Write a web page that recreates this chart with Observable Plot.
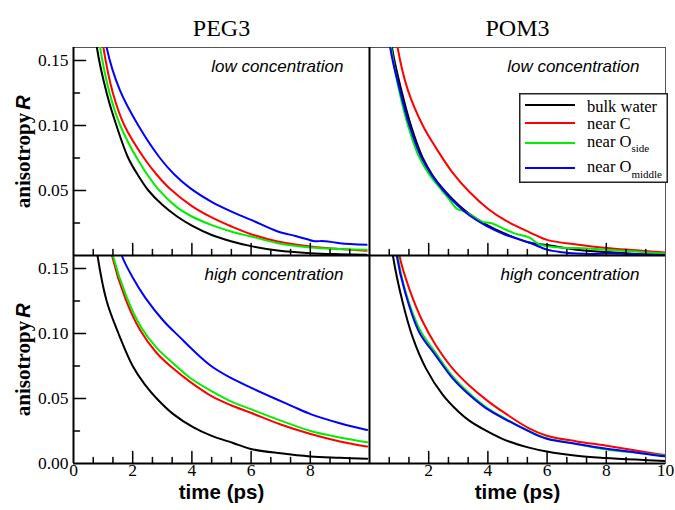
<!DOCTYPE html>
<html>
<head>
<meta charset="utf-8">
<script src="https://cdn.jsdelivr.net/npm/d3@7"></script>
<script src="https://cdn.jsdelivr.net/npm/@observablehq/plot@0.6"></script>
<style>
  html, body { margin: 0; padding: 0; background: #fff; }
  #wrap { position: relative; width: 675px; height: 510px; }
  #legend { position: absolute; left: 519px; top: 93px; }
</style>
</head>
<body>
<div id="wrap"></div>
<script>
// ---------- data ----------
const panels = ["PEG3", "POM3"];
const concs = ["low", "high"];
const concLabels = ["low concentration", "high concentration"];
const seriesKeys = ["bulk water", "near C", "near Oside", "near Omiddle"];
const seriesColors = ["#000000", "#ff0000", "#00ee00", "#0000ff"];
const legendNames = ["bulk water", "near C", "near O", "near O"];
const legendSubs = ["", "", "side", "middle"];

// PEG3, low concentration  [time ps, anisotropy R]
const PEG3_low_bulk = [[0.6,0.205],[0.79,0.16],[1.12,0.125],[1.45,0.10],[1.85,0.075],[2.2,0.061],[2.53,0.05],[3.0,0.039],[3.5,0.030],[4.0,0.023],[4.65,0.016],[5.32,0.011],[6.0,0.0072],[6.9,0.0038],[8.0,0.0018],[9.0,0.001],[9.9,0.0006]];
const PEG3_low_C    = [[0.8,0.2],[1.01,0.16],[1.33,0.125],[1.72,0.10],[2.41,0.074],[2.8,0.0625],[3.25,0.0515],[4.0,0.038],[4.65,0.0295],[5.32,0.0225],[6.0,0.0164],[6.9,0.0108],[8.0,0.0069],[9.0,0.005],[9.9,0.0036]];
const PEG3_low_Os   = [[0.7,0.2],[0.9,0.16],[1.22,0.125],[1.58,0.10],[2.19,0.073],[2.86,0.051],[3.5,0.037],[4.0,0.030],[4.65,0.0236],[5.32,0.0185],[6.0,0.0146],[6.9,0.0095],[8.0,0.0062],[9.0,0.005],[9.9,0.0044]];
const PEG3_low_Om   = [[0.9,0.2],[1.12,0.16],[1.57,0.127],[2.19,0.10],[2.92,0.075],[3.4,0.0625],[3.93,0.052],[4.65,0.0415],[5.32,0.034],[6.0,0.0274],[6.9,0.0185],[7.5,0.015],[7.9,0.0125],[8.1,0.0112],[8.5,0.011],[9.0,0.0095],[9.9,0.0082]];

// POM3, low concentration
const POM3_low_bulk = [[0.6,0.2],[0.76,0.16],[1.1,0.125],[1.4,0.10],[1.8,0.075],[2.15,0.061],[2.53,0.05],[3.0,0.039],[3.37,0.032],[3.93,0.024],[4.5,0.0175],[5.39,0.010],[6.0,0.008],[7.0,0.0045],[8.0,0.0026],[9.0,0.0012],[10,0.0005]];
const POM3_low_C    = [[0.75,0.2],[0.95,0.16],[1.3,0.127],[1.8,0.10],[2.24,0.083],[2.8,0.064],[3.37,0.049],[4.0,0.036],[4.59,0.027],[5.39,0.018],[6.0,0.012],[7.0,0.0085],[8.0,0.0058],[9.0,0.004],[10,0.0022]];
const POM3_low_Os   = [[0.55,0.2],[0.73,0.16],[1.02,0.125],[1.3,0.10],[1.65,0.077],[2.0,0.063],[2.45,0.05],[2.7,0.043],[2.95,0.036],[3.2,0.034],[3.5,0.030],[3.8,0.026],[4.1,0.025],[4.59,0.020],[4.9,0.017],[5.39,0.014],[5.7,0.009],[6.0,0.0072],[6.5,0.006],[7.0,0.0058],[7.5,0.0052],[8.0,0.0044],[9.0,0.003],[10,0.0015]];
const POM3_low_Om   = [[0.55,0.2],[0.70,0.16],[1.05,0.125],[1.35,0.10],[1.72,0.077],[2.1,0.062],[2.5,0.05],[3.0,0.038],[3.37,0.031],[3.93,0.023],[4.59,0.016],[5.39,0.010],[6.0,0.0045],[6.5,0.0025],[7.0,0.0015],[7.5,0.0012],[8.0,0.0015],[9.0,0.001],[10,0.0003]];

// PEG3, high concentration
const PEG3_high_bulk = [[0.6,0.2],[0.81,0.16],[1.12,0.125],[1.52,0.10],[2.0,0.075],[2.4,0.061],[2.81,0.05],[3.37,0.038],[4.04,0.028],[4.65,0.0214],[5.39,0.0158],[5.99,0.0112],[7.0,0.0078],[8.0,0.0054],[9.0,0.0044],[9.92,0.0036]];
const PEG3_high_C    = [[1.15,0.18],[1.3,0.16],[1.75,0.127],[2.24,0.103],[2.81,0.085],[3.37,0.073],[3.93,0.063],[4.65,0.052],[5.3,0.045],[5.99,0.039],[7.0,0.030],[8.01,0.0227],[9.0,0.017],[9.92,0.013]];
const PEG3_high_Os   = [[1.15,0.18],[1.33,0.16],[1.78,0.129],[2.28,0.105],[2.81,0.089],[3.37,0.077],[3.93,0.066],[4.65,0.0559],[5.3,0.048],[5.99,0.0418],[7.0,0.033],[8.01,0.025],[9.0,0.020],[9.92,0.0163]];
const PEG3_high_Om   = [[1.45,0.175],[1.63,0.16],[2.0,0.143],[2.41,0.128],[3.03,0.110],[3.6,0.097],[4.0,0.088],[4.65,0.075],[5.3,0.066],[5.99,0.0584],[6.8,0.050],[7.4,0.044],[8.01,0.038],[9.0,0.031],[9.92,0.0258]];

// POM3, high concentration
const POM3_high_bulk = [[0.6,0.2],[0.79,0.16],[1.12,0.124],[1.46,0.097],[1.91,0.073],[2.47,0.053],[3.0,0.040],[3.37,0.033],[4.0,0.0245],[4.59,0.018],[5.39,0.0122],[5.99,0.0092],[7.0,0.006],[7.96,0.0043],[9.0,0.003],[10,0.002]];
const POM3_high_C    = [[0.8,0.2],[1.01,0.16],[1.35,0.134],[1.8,0.109],[2.24,0.091],[2.81,0.073],[3.37,0.060],[4.0,0.048],[4.59,0.0385],[5.39,0.027],[5.99,0.0214],[7.0,0.017],[7.96,0.0138],[9.0,0.010],[9.72,0.0074],[10,0.0065]];
const POM3_high_Os   = [[0.77,0.2],[0.95,0.16],[1.22,0.132],[1.7,0.103],[2.24,0.085],[2.81,0.067],[3.37,0.054],[3.93,0.0435],[4.59,0.0345],[5.39,0.025],[5.99,0.0195],[7.0,0.015],[7.96,0.011],[9.0,0.0082],[10,0.006]];
const POM3_high_Om   = [[0.75,0.2],[0.92,0.16],[1.2,0.132],[1.68,0.101],[2.24,0.083],[2.81,0.0655],[3.37,0.0528],[3.93,0.0426],[4.59,0.034],[5.39,0.0247],[5.99,0.019],[7.0,0.015],[7.96,0.0115],[9.0,0.0085],[9.72,0.0061],[10,0.0055]];

// axis ticks and labels
const xMajor = [2, 4, 6, 8];
const xMinor = [0.667, 1.333, 2.667, 3.333, 4.667, 5.333, 6.667, 7.333, 8.667, 9.333];
const yMajor = [0.05, 0.10, 0.15];
const yMinor = [0.025, 0.075, 0.125];
const yLabelsLow = [0.05, 0.10, 0.15];
const yLabelsHigh = [0.00, 0.05, 0.10, 0.15];
const xLabelsPEG3 = [0, 2, 4, 6, 8];
const xLabelsPOM3 = [2, 4, 6, 8, 10];

// ---------- table built from the arrays ----------
const curves = {
  PEG3: {low: [PEG3_low_bulk, PEG3_low_C, PEG3_low_Os, PEG3_low_Om],
         high: [PEG3_high_bulk, PEG3_high_C, PEG3_high_Os, PEG3_high_Om]},
  POM3: {low: [POM3_low_bulk, POM3_low_C, POM3_low_Os, POM3_low_Om],
         high: [POM3_high_bulk, POM3_high_C, POM3_high_Os, POM3_high_Om]}
};
const rows = [];
for (const p of panels) for (const c of concs) curves[p][c].forEach((arr, i) => {
  for (const [t, R] of arr) rows.push({panel: p, conc: c, series: seriesKeys[i], t, R});
});
const concRows = [];
for (const p of panels) concs.forEach((c, i) => concRows.push({panel: p, conc: c, label: concLabels[i]}));

const SERIF = "'Liberation Serif', 'Times New Roman', serif";
const SANS = "'Liberation Sans', Arial, sans-serif";
const tickShape = {draw(ctx, l) { ctx.moveTo(0, 0); ctx.lineTo(0, -l); }};

const chart = Plot.plot({
  width: 675, height: 510,
  marginLeft: 72, marginRight: 10, marginTop: 46, marginBottom: 47,
  x: {domain: [0, 10], axis: null},
  y: {domain: [0, 0.16], axis: null},
  fx: {domain: panels, padding: 0, axis: null},
  fy: {domain: concs, padding: 0, axis: null},
  color: {domain: seriesKeys, range: seriesColors},
  style: {fontFamily: SERIF, background: "#fff", color: "#000"},
  marks: [
    Plot.frame({stroke: "#555", strokeWidth: 1}),
    Plot.line(rows, {x: "t", y: "R", z: "series", stroke: "series", fx: "panel", fy: "conc",
      strokeWidth: 2, curve: "catmull-rom", clip: true}),
    Plot.ruleY([0], {stroke: "#000", strokeWidth: 2}),
    Plot.ruleX([0], {stroke: "#000", strokeWidth: 2}),
    // x ticks (inward, every panel)
    Plot.vector(xMajor, {x: d => d, frameAnchor: "bottom", length: 12, rotate: 0, anchor: "start",
      shape: tickShape, stroke: "#000", strokeWidth: 1.5}),
    Plot.vector(xMinor, {x: d => d, frameAnchor: "bottom", length: 6, rotate: 0, anchor: "start",
      shape: tickShape, stroke: "#000", strokeWidth: 1.5}),
    // y ticks (inward, left column)
    Plot.vector(yMajor, {fx: () => "PEG3", y: d => d, frameAnchor: "left", length: 12, rotate: 90, anchor: "start",
      shape: tickShape, stroke: "#000", strokeWidth: 1.5}),
    Plot.vector(yMinor, {fx: () => "PEG3", y: d => d, frameAnchor: "left", length: 6, rotate: 90, anchor: "start",
      shape: tickShape, stroke: "#000", strokeWidth: 1.5}),
    // tick labels
    Plot.text(yLabelsLow, {fx: () => "PEG3", fy: () => "low", y: d => d, text: d => d.toFixed(2),
      frameAnchor: "left", textAnchor: "end", dx: -5, fontSize: 17.5, fontFamily: SERIF}),
    Plot.text(yLabelsHigh, {fx: () => "PEG3", fy: () => "high", y: d => d, text: d => d.toFixed(2),
      frameAnchor: "left", textAnchor: "end", dx: -5, fontSize: 17.5, fontFamily: SERIF}),
    Plot.text(xLabelsPEG3, {fx: () => "PEG3", fy: () => "high", x: d => d, text: d => String(d),
      frameAnchor: "bottom", textAnchor: "middle", lineAnchor: "top", dy: 0, fontSize: 17.5, fontFamily: SERIF}),
    Plot.text(xLabelsPOM3, {fx: () => "POM3", fy: () => "high", x: d => d, text: d => String(d),
      frameAnchor: "bottom", textAnchor: "middle", lineAnchor: "top", dy: 0, fontSize: 17.5, fontFamily: SERIF}),
    // column titles
    Plot.text(panels, {fx: d => d, fy: () => "low", text: d => d, frameAnchor: "top", textAnchor: "middle",
      lineAnchor: "bottom", dy: -12, fontSize: 24, fontFamily: SERIF}),
    // panel labels
    Plot.text(concRows, {fx: "panel", fy: "conc", text: "label", frameAnchor: "top-right",
      textAnchor: "end", lineAnchor: "top", dx: -26, dy: 12, fontFamily: SANS, fontStyle: "italic", fontSize: 17}),
    // axis titles
    Plot.text(panels, {fx: d => d, fy: () => "high", text: () => "time (ps)", frameAnchor: "bottom",
      textAnchor: "middle", lineAnchor: "top", dy: 20.5, fontFamily: SANS, fontWeight: "bold", fontSize: 20.5}),
    Plot.text(concs, {fx: () => "PEG3", fy: d => d, text: () => "anisotropy", frameAnchor: "left",
      textAnchor: "middle", rotate: -90, dx: -50, dy: 9, fontWeight: "bold", fontSize: 21, fontFamily: SERIF}),
    Plot.text(concs, {fx: () => "PEG3", fy: d => d, text: () => "R", frameAnchor: "left",
      textAnchor: "middle", rotate: -90, dx: -50, dy: -49, fontFamily: SANS, fontWeight: "bold", fontStyle: "italic", fontSize: 20})
  ]
});
document.getElementById("wrap").appendChild(chart);

// ---------- legend (in the POM3 / low panel) ----------
const leg = d3.select("#wrap").append("svg").attr("id", "legend")
  .attr("width", 150).attr("height", 91);
leg.append("rect").attr("x", 0.75).attr("y", 0.75).attr("width", 147.5).attr("height", 88.5)
  .attr("fill", "#fff").attr("stroke", "#222").attr("stroke-width", 1.5);
const lineY = [12, 30, 50, 75];
const textY = [18.5, 36, 53.5, 78.5];
const subDy = [0, 0, 5, 6];
seriesKeys.forEach((k, i) => {
  leg.append("line").attr("x1", 6).attr("x2", 56).attr("y1", lineY[i]).attr("y2", lineY[i])
    .attr("stroke", seriesColors[i]).attr("stroke-width", 2);
  const t = leg.append("text").attr("x", 68).attr("y", textY[i])
    .attr("font-family", SERIF).attr("font-size", 16.5).text(legendNames[i]);
  if (legendSubs[i]) t.append("tspan").attr("dy", subDy[i]).attr("font-size", 11).text(legendSubs[i]);
});
</script>
</body>
</html>
